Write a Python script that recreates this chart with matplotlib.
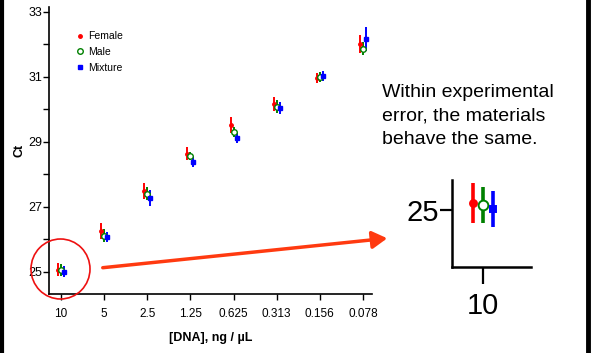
import matplotlib
matplotlib.use("Agg")
import matplotlib.pyplot as plt
from matplotlib.patches import Ellipse, FancyArrowPatch
from matplotlib.lines import Line2D
import numpy as np

plt.rcParams['font.family'] = ['Liberation Sans', 'DejaVu Sans']

categories = ["10", "5", "2.5", "1.25", "0.625", "0.313", "0.156", "0.078"]
female = [25.07, 26.26, 27.49, 28.63, 29.52, 30.17, 30.97, 32.02]
male = [25.05, 26.11, 27.40, 28.57, 29.31, 30.08, 31.00, 31.86]
mixture = [25.01, 26.08, 27.28, 28.38, 29.12, 30.05, 31.03, 32.17]
female_err = [0.20, 0.25, 0.26, 0.20, 0.25, 0.22, 0.15, 0.27]
male_err = [0.18, 0.20, 0.20, 0.12, 0.15, 0.20, 0.15, 0.20]
mixture_err = [0.18, 0.15, 0.25, 0.15, 0.15, 0.18, 0.15, 0.38]
series_names = ["Female", "Male", "Mixture"]
colors = ["#ff0000", "#008000", "#0000ff"]
note = "Within experimental\nerror, the materials\nbehave the same."

W, H = 593, 353
fig = plt.figure(figsize=(W / 100, H / 100), dpi=100)

def fx(px):
    return px / W

def fy(py):
    return 1 - py / H

ax = fig.add_axes([fx(49), fy(294), fx(372) - fx(49), fy(7) - fy(294)])
x = np.arange(len(categories))
offsets = [-0.07, 0.0, 0.07]
data = [female, male, mixture]
errs = [female_err, male_err, mixture_err]
markers = ["o", "o", "s"]

def draw(axx, scale, lw, ms_list):
    for i in range(3):
        xs = x + offsets[i]
        mfc = "white" if i == 1 else colors[i]
        axx.errorbar(xs, data[i], yerr=errs[i], fmt="none", ecolor=colors[i],
                     elinewidth=lw, capsize=0, zorder=2)
        axx.plot(xs, data[i], linestyle="none", marker=markers[i], ms=ms_list[i],
                 mfc=mfc, mec=colors[i], mew=1.0 * scale, zorder=3)

draw(ax, 1.0, 1.4, [2.5, 4.0, 2.5])

ax.set_xlim(-0.28, 7.21)
ax.set_ylim(24.32, 33.15)
ax.set_xticks(x)
ax.set_xticklabels(categories, fontsize=8.5)
ax.set_yticks([25, 27, 29, 31, 33])
ax.set_yticks([26, 28, 30, 32], minor=True)
ax.tick_params(axis="both", direction="out", labelsize=9, length=4, width=1)
ax.tick_params(axis="x", labelsize=8.5, pad=6)
ax.tick_params(axis="y", which="minor", length=4, width=1)
ax.tick_params(axis="y", pad=1)
ax.spines["top"].set_visible(False)
ax.spines["right"].set_visible(False)
for s in ["left", "bottom"]:
    ax.spines[s].set_linewidth(1.2)
ax.set_xlabel("[DNA], ng / µL", fontsize=9, fontweight="bold", labelpad=9)
ax.set_ylabel("Ct", fontsize=9, fontweight="bold", labelpad=2)

handles = [
    Line2D([], [], linestyle="none", marker="o", ms=2.5, mfc=colors[0], mec=colors[0]),
    Line2D([], [], linestyle="none", marker="o", ms=4, mfc="white", mec=colors[1]),
    Line2D([], [], linestyle="none", marker="s", ms=2.5, mfc=colors[2], mec=colors[2]),
]
ax.legend(handles, series_names, loc="upper left", bbox_to_anchor=(0.07, 0.93),
          frameon=False, fontsize=7.5, handlelength=0.8, handletextpad=0.35,
          labelspacing=0.55, borderaxespad=0)

# inset
ax2 = fig.add_axes([fx(452), fy(267), fx(531) - fx(452), fy(180) - fy(267)])
draw(ax2, 1.4, 2.6, [5, 7, 5])
ax2.set_xlim(-0.217, 0.336)
ax2.set_ylim(24.43, 25.30)
ax2.set_xticks([0])
ax2.set_xticklabels([categories[0]], fontsize=21)
ax2.set_yticks([25])
ax2.set_yticklabels(["25"], fontsize=21)
ax2.tick_params(axis="x", direction="out", length=12, width=1.6, pad=6)
ax2.tick_params(axis="y", direction="out", length=9, width=1.6, pad=0)
ax2.spines["top"].set_visible(False)
ax2.spines["right"].set_visible(False)
for s in ["left", "bottom"]:
    ax2.spines[s].set_linewidth(1.8)

# annotations
fig.text(fx(382), fy(84), note, fontsize=14, va="top", ha="left", linespacing=1.5)
fig.patches.append(Ellipse((fx(60.5), fy(269)), fx(59), 60 / H, transform=fig.transFigure,
                           fill=False, ec="#ee1111", lw=1.2, zorder=5))
arr = FancyArrowPatch((fx(100), fy(268)), (fx(390), fy(238)), transform=fig.transFigure,
                      arrowstyle="-|>,head_length=6,head_width=3.5", color="#ff3a10",
                      lw=2.5, mutation_scale=1.5, zorder=5)
fig.patches.append(arr)

# frame lines
fig.add_artist(Line2D([fx(1.5), fx(1.5)], [0, 1], transform=fig.transFigure, color="black", lw=3))
fig.add_artist(Line2D([fx(587.5), fx(587.5)], [0, 1], transform=fig.transFigure, color="black", lw=3.5))

fig.savefig("out.png", dpi=100)
